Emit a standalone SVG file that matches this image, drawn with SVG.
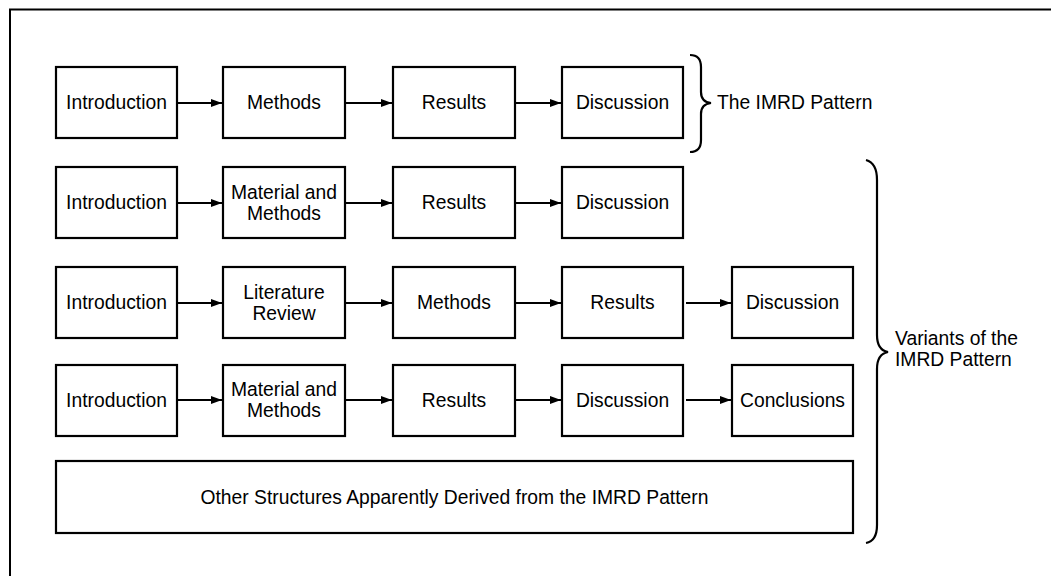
<svg xmlns="http://www.w3.org/2000/svg" width="1051" height="576" viewBox="0 0 1051 576">
<defs>
<style>
.box{fill:#fff;stroke:#000;stroke-width:2.2}
.t{font-family:"Liberation Sans",Arial,sans-serif;font-size:19.3px;fill:#000;text-anchor:middle}
.l{font-family:"Liberation Sans",Arial,sans-serif;font-size:19.3px;fill:#000}
.c{stroke:#000;stroke-width:2;fill:none}
.br{stroke:#000;stroke-width:2.2;fill:none}
</style>
<marker id="ah" viewBox="0 0 11 8" refX="11" refY="4" markerWidth="11" markerHeight="8" markerUnits="userSpaceOnUse" orient="auto">
<path d="M0,0 L11,4 L0,8 Z" fill="#000"/>
</marker>
</defs>
<rect width="1051" height="576" fill="#fff"/>
<g id="frame">
<path d="M10,576 L10,9.5 L1051,9.5" fill="none" stroke="#000" stroke-width="2"/>
</g>

<g id="r1-intro"><rect class="box" x="56" y="67" width="121" height="71"/><text class="t" x="116.5" y="109">Introduction</text></g>
<g id="r1-methods"><rect class="box" x="223" y="67" width="122" height="71"/><text class="t" x="284" y="109">Methods</text></g>
<g id="r1-results"><rect class="box" x="393" y="67" width="122" height="71"/><text class="t" x="454" y="109">Results</text></g>
<g id="r1-discussion"><rect class="box" x="562" y="67" width="121" height="71"/><text class="t" x="622.5" y="109">Discussion</text></g>

<g id="r2-intro"><rect class="box" x="56" y="167" width="121" height="71"/><text class="t" x="116.5" y="209">Introduction</text></g>
<g id="r2-matmethods"><rect class="box" x="223" y="167" width="122" height="71"/><text class="t" x="284" y="199">Material and</text><text class="t" x="284" y="220">Methods</text></g>
<g id="r2-results"><rect class="box" x="393" y="167" width="122" height="71"/><text class="t" x="454" y="209">Results</text></g>
<g id="r2-discussion"><rect class="box" x="562" y="167" width="121" height="71"/><text class="t" x="622.5" y="209">Discussion</text></g>

<g id="r3-intro"><rect class="box" x="56" y="267" width="121" height="71"/><text class="t" x="116.5" y="309">Introduction</text></g>
<g id="r3-litreview"><rect class="box" x="223" y="267" width="122" height="71"/><text class="t" x="284" y="299">Literature</text><text class="t" x="284" y="320">Review</text></g>
<g id="r3-methods"><rect class="box" x="393" y="267" width="122" height="71"/><text class="t" x="454" y="309">Methods</text></g>
<g id="r3-results"><rect class="box" x="562" y="267" width="121" height="71"/><text class="t" x="622.5" y="309">Results</text></g>
<g id="r3-discussion"><rect class="box" x="732" y="267" width="121" height="71"/><text class="t" x="792.5" y="309">Discussion</text></g>

<g id="r4-intro"><rect class="box" x="56" y="365" width="121" height="71"/><text class="t" x="116.5" y="407">Introduction</text></g>
<g id="r4-matmethods"><rect class="box" x="223" y="365" width="122" height="71"/><text class="t" x="284" y="396">Material and</text><text class="t" x="284" y="417">Methods</text></g>
<g id="r4-results"><rect class="box" x="393" y="365" width="122" height="71"/><text class="t" x="454" y="407">Results</text></g>
<g id="r4-discussion"><rect class="box" x="562" y="365" width="121" height="71"/><text class="t" x="622.5" y="407">Discussion</text></g>
<g id="r4-conclusions"><rect class="box" x="732" y="365" width="121" height="71"/><text class="t" x="792.5" y="407">Conclusions</text></g>

<g id="other"><rect class="box" x="56" y="461" width="797" height="72"/><text class="t" x="454.5" y="504">Other Structures Apparently Derived from the IMRD Pattern</text></g>

<g id="connectors">
<line class="c" x1="178" y1="103" x2="222" y2="103" marker-end="url(#ah)"/>
<line class="c" x1="346" y1="103" x2="392" y2="103" marker-end="url(#ah)"/>
<line class="c" x1="516" y1="103" x2="561" y2="103" marker-end="url(#ah)"/>

<line class="c" x1="178" y1="203" x2="222" y2="203" marker-end="url(#ah)"/>
<line class="c" x1="346" y1="203" x2="392" y2="203" marker-end="url(#ah)"/>
<line class="c" x1="516" y1="203" x2="561" y2="203" marker-end="url(#ah)"/>

<line class="c" x1="178" y1="303" x2="222" y2="303" marker-end="url(#ah)"/>
<line class="c" x1="346" y1="303" x2="392" y2="303" marker-end="url(#ah)"/>
<line class="c" x1="516" y1="303" x2="561" y2="303" marker-end="url(#ah)"/>
<line class="c" x1="686" y1="303" x2="731" y2="303" marker-end="url(#ah)"/>

<line class="c" x1="178" y1="400" x2="222" y2="400" marker-end="url(#ah)"/>
<line class="c" x1="346" y1="400" x2="392" y2="400" marker-end="url(#ah)"/>
<line class="c" x1="516" y1="400" x2="561" y2="400" marker-end="url(#ah)"/>
<line class="c" x1="686" y1="400" x2="731" y2="400" marker-end="url(#ah)"/>
</g>

<g id="brace-imrd">
<path class="br" d="M690,55 Q701,55 701,67 L701,92 Q701,102 711,103 Q701,104 701,114 L701,140 Q701,152 690,152"/>
<text class="l" x="717" y="109">The IMRD Pattern</text>
</g>
<g id="brace-variants">
<path class="br" d="M866,160 Q877,163 877,180 L877,335 Q877,350 888,352 Q877,354 877,369 L877,525 Q877,541 866,543"/>
<text class="l" x="895" y="345">Variants of the</text>
<text class="l" x="895" y="366">IMRD Pattern</text>
</g>
</svg>
